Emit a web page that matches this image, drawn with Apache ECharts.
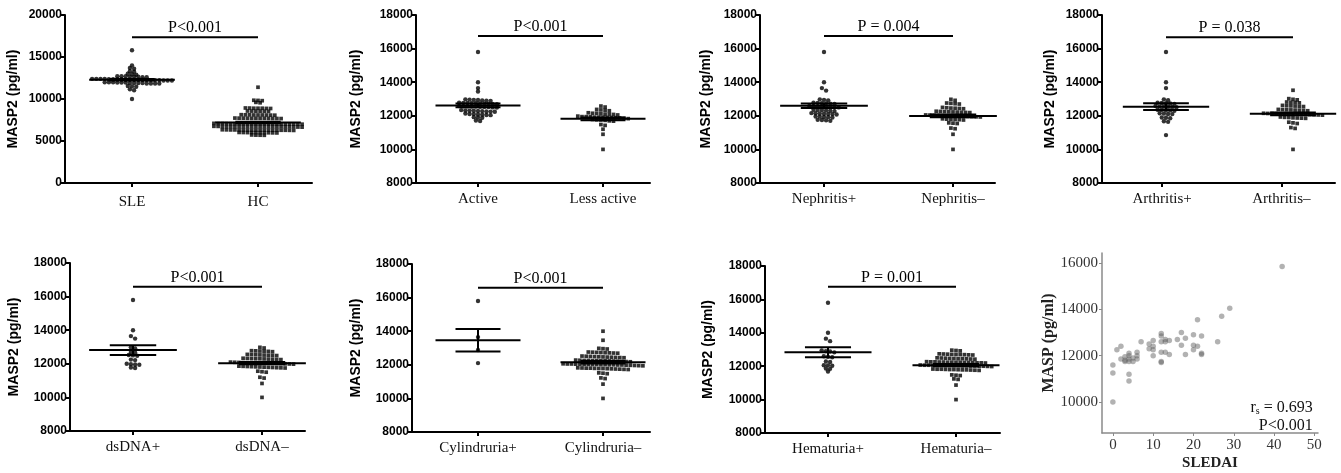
<!DOCTYPE html>
<html><head><meta charset="utf-8">
<script src="https://cdn.jsdelivr.net/npm/echarts@6/dist/echarts.min.js"></script>
<style>html,body{margin:0;padding:0;background:#fff}#c{width:1341px;height:473px}</style>
</head><body><div id="c"></div>
<script>
// ---------------- DATA ----------------
const groupNames = [
  ['SLE', 'HC'], ['Active', 'Less active'], ['Nephritis+', 'Nephritis\u2013'], ['Arthritis+', 'Arthritis\u2013'],
  ['dsDNA+', 'dsDNA\u2013'], ['Cylindruria+', 'Cylindruria\u2013'], ['Hematuria+', 'Hematuria\u2013']
];
const pLabels = ['P<0.001', 'P<0.001', 'P = 0.004', 'P = 0.038', 'P<0.001', 'P<0.001', 'P = 0.001'];
const yAxisTitle = 'MASP2 (pg/ml)';

const sleValues = [15800, 14000, 13700, 13600, 13300, 13250, 13000, 12950, 12900,
  12700, 12700, 12700, 12650, 12650, 12650, 12600, 12600,
  12400, 12400, 12400, 12400, 12350, 12350, 12350, 12350, 12300, 12300, 12300, 12300, 12300, 12250, 12250, 12250, 12250, 12200, 12200, 12200,
  12000, 12000, 12000, 11950, 11950, 11950, 11900, 11900, 11900, 11900, 11850, 11850, 11850, 11850,
  11550, 11500, 11450, 11150, 11050, 10000];
const hcValues = [11400,
  9850, 9830, 9800,
  9600, 9550,
  8920, 8900, 8900, 8880, 8900, 8870, 8930,
  8560, 8550, 8540, 8550, 8530, 8570,
  8120, 8100, 8100, 8080, 8110, 8090, 8100, 8070, 8130,
  7720, 7700, 7680, 7710, 7700, 7690, 7730, 7700, 7670, 7700, 7720, 7680,
  7100, 7080, 7060, 7050, 7050, 7040, 7030, 7050, 7070, 7020, 7000, 7060, 7050, 7040, 7080, 7010, 7050, 7030, 7060, 7000, 7050, 7020,
  6750, 6720, 6700, 6700, 6690, 6710, 6680, 6700, 6730, 6670, 6700, 6720, 6650, 6700, 6690, 6710, 6680, 6700, 6740, 6660, 6700, 6690,
  6340, 6320, 6300, 6300, 6280, 6310, 6290, 6300, 6330, 6270, 6300, 6310, 6260, 6300, 6290, 6320, 6280, 6300,
  6020, 6000, 6000, 5990, 5980, 6010, 5970, 6000, 5990, 5960,
  5720, 5700, 5690, 5680];

const activeValues = [15800, 14000, 13650, 13450,
  12980, 12960, 12950, 12940, 12920, 12900, 12890,
  12780, 12770, 12760, 12750, 12750, 12740, 12720, 12710, 12700, 12690,
  12580, 12570, 12560, 12550, 12550, 12540, 12530, 12520, 12500, 12490,
  12340, 12320, 12310, 12300, 12290, 12280, 12260, 12250, 12240,
  12130, 12110, 12100, 12080, 12070, 12050, 12040,
  11920, 11900, 11880,
  11720, 11690];
const lessActiveValues = [12580, 12520,
  12380, 12350, 12330, 12300,
  12180, 12150, 12150, 12120, 12100, 12100, 12080, 12050,
  11980, 11950, 11950, 11940, 11920, 11920, 11910, 11900, 11900, 11890, 11880, 11850, 11830,
  11780, 11760, 11750, 11730, 11700, 11680,
  11480, 11430, 11200, 10900, 10000];

const nephritisPos = [15800, 14000, 13650, 13500,
  12980, 12950, 12920,
  12780, 12770, 12750, 12740, 12720, 12700,
  12580, 12570, 12560, 12550, 12540, 12530, 12510, 12500,
  12360, 12350, 12340, 12320, 12300, 12280,
  12160, 12150, 12140, 12120, 12110, 12100, 12080,
  11960, 11950, 11930, 11920, 11900,
  11760, 11750, 11730, 11700];
const nephritisNeg = [12980, 12920,
  12760, 12740, 12720, 12700,
  12500, 12480, 12460, 12450, 12440, 12420,
  12270, 12260, 12250, 12240, 12230, 12220, 12210, 12200, 12190,
  12050, 12040, 12030, 12020, 12010, 12000, 12000, 11990, 11980, 11970, 11960, 11950, 11940, 11930,
  11820, 11800, 11790, 11780, 11770, 11750,
  11580, 11560, 11540,
  11270, 11230, 10900, 10000];

const arthritisPos = [15800, 14000, 13650,
  12980, 12930,
  12780, 12760, 12750, 12730, 12710,
  12580, 12560, 12550, 12540, 12530, 12510,
  12360, 12350, 12330, 12320, 12300,
  12150, 12130, 12110, 12100,
  11900, 11880, 11850,
  11680, 11640, 10850];
const arthritisNeg = [13520,
  13020, 12980, 12950,
  12820, 12800, 12790, 12770,
  12620, 12600, 12590, 12580, 12560, 12550,
  12380, 12370, 12360, 12350, 12340, 12330, 12320, 12300,
  12150, 12140, 12140, 12130, 12120, 12120, 12110, 12100, 12100, 12090, 12080, 12070, 12060, 12050, 12040,
  11930, 11910, 11900, 11880, 11870, 11860, 11850,
  11620, 11580, 11540,
  11300, 11250, 10000];

const dsdnaPos = [15800, 14000, 13650, 13500, 12980, 12920, 12700, 12680, 12520, 12500, 12480,
  12250, 12220, 12000, 11980, 11960, 11940, 11780, 11750];
const dsdnaNeg = [12980, 12940,
  12780, 12770, 12760, 12750, 12740, 12720,
  12560, 12550, 12540, 12530, 12520, 12510, 12500, 12490,
  12330, 12320, 12310, 12300, 12300, 12290, 12280, 12270, 12260, 12250,
  12100, 12090, 12080, 12070, 12060, 12060, 12050, 12050, 12040, 12040, 12030, 12020, 12010, 12000, 11990, 11980,
  11860, 11850, 11840, 11830, 11820, 11810, 11800, 11790, 11780, 11770, 11760, 11750,
  11560, 11530, 11500,
  11200, 11150, 10830, 10000];

const cylindruriaPos = [15800, 13650, 12880, 12100];
const cylindruriaNeg = [14000, 13460,
  12980, 12960, 12940,
  12760, 12750, 12740, 12730, 12720, 12710, 12700, 12690,
  12520, 12510, 12500, 12490, 12480, 12470, 12460, 12450, 12440, 12430, 12420,
  12280, 12270, 12260, 12260, 12250, 12250, 12240, 12240, 12230, 12220, 12210, 12200, 12190, 12180,
  12060, 12050, 12050, 12040, 12040, 12030, 12030, 12020, 12020, 12010, 12010, 12000, 12000, 11990, 11990, 11980, 11970, 11960, 11950, 11940,
  11820, 11810, 11800, 11800, 11790, 11780, 11780, 11770, 11760, 11750, 11740, 11730, 11720,
  11520, 11500, 11470,
  11220, 11180, 10850, 10000];

const hematuriaPos = [15800, 14000, 13650, 13500, 12950, 12900, 12880, 12830, 12600, 12570, 12540,
  12280, 12250, 12060, 12050, 12030, 11860, 11840, 11680];
const hematuriaNeg = [12960, 12940, 12920,
  12740, 12730, 12720, 12710, 12700, 12700, 12690, 12680, 12670,
  12500, 12490, 12480, 12470, 12460, 12450, 12450, 12440, 12430, 12420,
  12270, 12260, 12260, 12250, 12250, 12240, 12240, 12230, 12230, 12220, 12220, 12210, 12200, 12200, 12190,
  12070, 12060, 12060, 12050, 12050, 12050, 12040, 12040, 12030, 12030, 12020, 12020, 12010, 12010, 12000, 12000, 11990, 11980,
  11830, 11820, 11820, 11810, 11800, 11800, 11790, 11780, 11780, 11770, 11760, 11750,
  11480, 11460, 11440,
  11240, 11210, 10870, 10000];

const groupValues = [
  [sleValues, hcValues], [activeValues, lessActiveValues], [nephritisPos, nephritisNeg], [arthritisPos, arthritisNeg],
  [dsdnaPos, dsdnaNeg], [cylindruriaPos, cylindruriaNeg], [hematuriaPos, hematuriaNeg]
];
// mean and SEM
const groupMeans = [[12300, 7200], [12620, 11820], [12600, 11990], [12540, 12120], [12820, 12040], [13460, 12150], [12830, 12060]];
const groupSems = [[90, 100], [110, 80], [130, 80], [200, 80], [290, 70], [670, 70], [300, 70]];

// correlation panel
const sledaiValues = [42, 29, 27, 21, 26, 22, 22, 22, 20, 20, 21, 20, 17, 18, 17, 18, 16, 14, 13, 12, 12, 12, 12, 12, 13, 14, 10, 10, 10, 10, 9, 7, 6, 6, 6, 5, 4, 4, 4, 3, 3, 2, 2, 1, 5, 4, 4, 0, 0, 0, 9, 12, 4, 3, 13];
const maspValues = [15850, 14050, 13700, 13550, 12600, 12850, 12100, 12050, 12900, 12450, 12400, 12250, 13000, 12750, 12450, 12050, 12700, 12650, 12700, 12950, 12850, 12600, 12150, 11750, 12150, 12050, 12650, 12400, 12250, 12000, 12300, 12600, 12150, 12000, 11850, 11900, 12100, 11850, 11750, 11950, 11750, 12400, 11850, 12250, 11750, 11200, 10900, 11600, 11250, 10000, 12500, 11700, 12000, 11800, 12600];
const corrTicksX = [0, 10, 20, 30, 40, 50];
const corrTicksY = [10000, 12000, 14000, 16000];
const corrText1 = ['r', 's', ' = 0.693'];
const corrText2 = 'P<0.001';

// ---------------- LAYOUT ----------------
const layout = [
  {gx: 65, ex: 312, top: 15, bot: 183, c1: 132, c2: 258, min: 0, max: 20000, step: 5000, gap: 45, bar: 17350, rowH: 250, lm: 12},
  {gx: 416, ex: 650, top: 15, bot: 183, c1: 478, c2: 603, min: 8000, max: 18000, step: 2000, gap: 53, bar: 16750, rowH: 180, lm: 9},
  {gx: 760, ex: 995, top: 15, bot: 183, c1: 824, c2: 953, min: 8000, max: 18000, step: 2000, gap: 47, bar: 16750, rowH: 180, lm: 9},
  {gx: 1102, ex: 1335, top: 15, bot: 183, c1: 1166, c2: 1293, min: 8000, max: 18000, step: 2000, gap: 45, bar: 16680, rowH: 180, lm: 9},
  {gx: 70, ex: 305, top: 263, bot: 431, c1: 133, c2: 262, min: 8000, max: 18000, step: 2000, gap: 49, bar: 16590, rowH: 180, lm: 9},
  {gx: 412, ex: 650, top: 264, bot: 432, c1: 478, c2: 603, min: 8000, max: 18000, step: 2000, gap: 49, bar: 16590, rowH: 180, lm: 9},
  {gx: 765, ex: 1000, top: 266, bot: 433, c1: 828, c2: 956, min: 8000, max: 18000, step: 2000, gap: 50, bar: 16760, rowH: 180, lm: 9}
];
const DOT_PX = 4.2;
const MEAN_HW = 0.34, SEM_HW = 0.18;
const SANS = '"Liberation Sans", Arial, sans-serif';
const SERIF = '"Liberation Serif", "Times New Roman", serif';

function swarm(vals, rowH, dx, center) {
  const s = vals.slice().sort((a, b) => b - a);
  const rows = []; let cur = null;
  s.forEach(v => {
    if (!cur || cur.top - v >= rowH - 1e-9) { cur = {top: v, vals: []}; rows.push(cur); }
    cur.vals.push(v);
  });
  const out = [];
  rows.forEach(r => {
    const n = r.vals.length;
    r.vals.forEach((v, i) => out.push([center + (i - (n - 1) / 2) * dx, v]));
  });
  return out;
}

const grid = [], xAxis = [], yAxis = [], series = [];
layout.forEach((L, p) => {
  const s = L.c2 - L.c1;
  const ga = grid.length;
  grid.push({left: L.gx, top: L.top, width: L.ex - L.gx, height: L.bot - L.top});
  grid.push({left: L.c1 - s / 2, top: L.top, width: 2 * s, height: L.bot - L.top});
  // grid A axes
  xAxis.push({gridIndex: ga, type: 'value', min: (L.gx - L.c1) / s, max: (L.ex - L.c1) / s,
    axisLine: {show: true, onZero: false, lineStyle: {color: '#000', width: 2}}, axisTick: {show: false},
    axisLabel: {show: false}, splitLine: {show: false}});
  yAxis.push({gridIndex: ga, type: 'value', min: L.min, max: L.max, interval: L.step,
    axisLine: {show: true, onZero: false, lineStyle: {color: '#000', width: 2}},
    axisTick: {show: true, length: 4, lineStyle: {color: '#000', width: 2}},
    axisLabel: {color: '#000', fontFamily: SANS, fontWeight: 'bold', fontSize: 12, margin: 3, formatter: v => String(v)},
    splitLine: {show: false},
    name: yAxisTitle, nameLocation: 'middle', nameGap: L.gap,
    nameTextStyle: {color: '#000', fontFamily: SANS, fontWeight: 'bold', fontSize: 14}});
  // grid B axes (category labels + ticks)
  xAxis.push({gridIndex: ga + 1, type: 'category', data: groupNames[p], boundaryGap: true,
    axisLine: {show: false, onZero: false},
    axisTick: {show: true, alignWithLabel: true, length: 4, lineStyle: {color: '#000', width: 2}},
    axisLabel: {color: '#111', fontFamily: SERIF, fontSize: 15, margin: L.lm}});
  yAxis.push({gridIndex: ga + 1, type: 'value', min: 0, max: 1, show: false});

  const dx = DOT_PX / s;
  [0, 1].forEach(g => {
    series.push({type: 'scatter', xAxisIndex: ga, yAxisIndex: ga, symbol: g === 0 ? 'circle' : 'rect',
      symbolSize: g === 0 ? 4.4 : 3.7, itemStyle: {color: '#000'}, silent: true, z: 2,
      data: swarm(groupValues[p][g], L.rowH, dx, g)});
  });
  series.push({type: 'custom', xAxisIndex: ga, yAxisIndex: ga, z: 3, silent: true,
    data: [0, 1].map(g => [g, groupMeans[p][g], groupSems[p][g]]),
    renderItem: (params, api) => {
      const c = api.value(0), m = api.value(1), e = api.value(2);
      const seg = (a, b) => ({type: 'line', shape: {x1: a[0], y1: a[1], x2: b[0], y2: b[1]}, style: {stroke: '#000', lineWidth: 2}});
      const P = (x, y) => api.coord([x, y]);
      return {type: 'group', children: [
        seg(P(c - MEAN_HW, m), P(c + MEAN_HW, m)),
        seg(P(c - SEM_HW, m + e), P(c + SEM_HW, m + e)),
        seg(P(c - SEM_HW, m - e), P(c + SEM_HW, m - e)),
        seg(P(c, m - e), P(c, m + e))
      ]};
    }});
  series.push({type: 'custom', xAxisIndex: ga, yAxisIndex: ga, z: 3, silent: true,
    data: [[0, L.bar]],
    renderItem: (params, api) => {
      const a = api.coord([0, api.value(1)]), b = api.coord([1, api.value(1)]);
      return {type: 'group', children: [
        {type: 'line', shape: {x1: a[0], y1: a[1], x2: b[0], y2: b[1]}, style: {stroke: '#000', lineWidth: 2}},
        {type: 'text', x: (a[0] + b[0]) / 2, y: a[1] - 1,
          style: {text: pLabels[p], align: 'center', verticalAlign: 'bottom', fontFamily: SERIF, fontSize: 16, fill: '#000'}}
      ]};
    }});
});

// correlation panel
const gc = grid.length;
grid.push({left: 1102, top: 253, width: 216, height: 180});
xAxis.push({gridIndex: gc, type: 'value', min: -2.7, max: 50.9,
  axisLine: {show: true, onZero: false, lineStyle: {color: '#8a8a8a', width: 1.5}},
  axisTick: {show: true, length: 3, customValues: corrTicksX, lineStyle: {color: '#8a8a8a'}},
  axisLabel: {customValues: corrTicksX, color: '#333', fontFamily: SERIF, fontSize: 15, margin: 5},
  splitLine: {show: false},
  name: 'SLEDAI', nameLocation: 'middle', nameGap: 23,
  nameTextStyle: {color: '#222', fontFamily: SERIF, fontWeight: 'bold', fontSize: 15}});
yAxis.push({gridIndex: gc, type: 'value', min: 8660, max: 16430,
  axisLine: {show: true, onZero: false, lineStyle: {color: '#8a8a8a', width: 1.5}},
  axisTick: {show: true, length: 3, customValues: corrTicksY, lineStyle: {color: '#8a8a8a'}},
  axisLabel: {customValues: corrTicksY, color: '#333', fontFamily: SERIF, fontSize: 15, margin: 4, formatter: v => String(v)},
  splitLine: {show: false},
  name: 'MASP (pg/ml)', nameLocation: 'middle', nameGap: 44,
  nameTextStyle: {color: '#222', fontFamily: SERIF, fontWeight: 'bold', fontSize: 16}});
series.push({type: 'scatter', xAxisIndex: gc, yAxisIndex: gc, symbolSize: 5.5, silent: true,
  itemStyle: {color: 'rgba(95,95,95,0.6)'},
  data: sledaiValues.map((x, i) => [x, maspValues[i]])});
series.push({type: 'custom', xAxisIndex: gc, yAxisIndex: gc, silent: true, z: 4,
  data: [[49.6, 9740, 8960]],
  renderItem: (params, api) => {
    const a = api.coord([api.value(0), api.value(1)]), b = api.coord([api.value(0), api.value(2)]);
    return {type: 'group', children: [
      {type: 'text', x: a[0], y: a[1], style: {text: '{a|' + corrText1[0] + '}{b|' + corrText1[1] + '}{a|' + corrText1[2] + '}',
        align: 'right', verticalAlign: 'middle',
        rich: {a: {fontFamily: SERIF, fontSize: 16, fill: '#111'}, b: {fontFamily: SERIF, fontSize: 10, fill: '#111', verticalAlign: 'bottom', padding: [6, 0, 0, 0]}}}},
      {type: 'text', x: b[0], y: b[1], style: {text: corrText2, align: 'right', verticalAlign: 'middle', fontFamily: SERIF, fontSize: 16, fill: '#111'}}
    ]};
  }});

const chart = echarts.init(document.getElementById('c'), null, {renderer: 'canvas'});
chart.setOption({animation: false, backgroundColor: '#fff', grid, xAxis, yAxis, series});
</script></body></html>
